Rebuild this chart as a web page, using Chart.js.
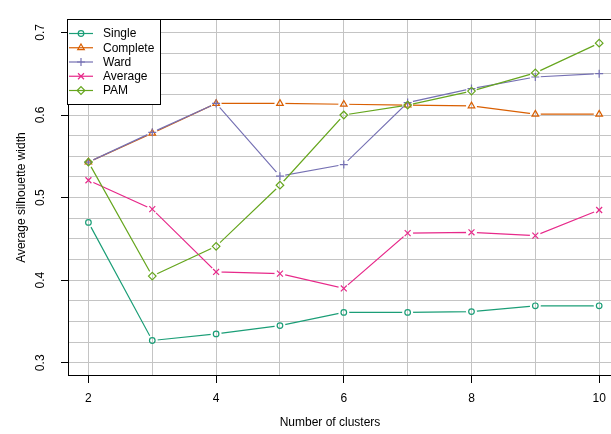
<!DOCTYPE html>
<html>
<head>
<meta charset="utf-8">
<script src="https://cdn.jsdelivr.net/npm/chart.js@4/dist/chart.umd.min.js"></script>
<style>
  html, body { margin: 0; padding: 0; background: #fff; overflow: hidden; width: 611px; height: 434px; }
  canvas { display: block; }
</style>
</head>
<body>
<canvas id="c" width="625" height="434"></canvas>
<script>
// Average silhouette width by number of clusters, for five clustering methods
const clusters = [2, 3, 4, 5, 6, 7, 8, 9, 10];
const single   = [0.470, 0.327, 0.335, 0.345, 0.361, 0.361, 0.362, 0.369, 0.369];
const complete = [0.543, 0.578, 0.614, 0.614, 0.613, 0.612, 0.611, 0.601, 0.601];
const ward     = [0.543, 0.579, 0.614, 0.526, 0.540, 0.615, 0.632, 0.646, 0.650];
const average  = [0.521, 0.486, 0.410, 0.408, 0.390, 0.457, 0.458, 0.454, 0.485];
const pam      = [0.543, 0.405, 0.441, 0.515, 0.600, 0.612, 0.629, 0.651, 0.687];

const seriesNames  = ['Single', 'Complete', 'Ward', 'Average', 'PAM'];
const seriesValues = [single, complete, ward, average, pam];

const xTickLabels = [2, 4, 6, 8, 10];
const yTickLabels = [0.3, 0.4, 0.5, 0.6, 0.7];

// styling
const seriesColors  = ['#1B9E77', '#D95F02', '#7570B3', '#E7298A', '#66A61E'];
const seriesMarkers = ['circle', 'triangle', 'cross', 'crossRot', 'rectRot'];
const markerRadius  = [2.8, 3.8, 4, 4.2, 3.8];
const GAP = 5.5;           // open space left around each marker on the connecting line
const FONT = '"Liberation Sans", Arial, Helvetica, sans-serif';

Chart.defaults.font.family = FONT;
Chart.defaults.font.size = 12;
Chart.defaults.color = '#000';

// one line dataset plus one marker dataset per method
const datasets = [];
seriesNames.forEach((name, i) => {
  const pts = clusters.map((x, j) => ({ x: x, y: seriesValues[i][j] }));
  datasets.push({
    label: name, data: pts, kind: 'line', series: i,
    borderColor: seriesColors[i], borderWidth: 1.2, pointRadius: 0,
    showLine: true, fill: false, tension: 0, order: 10 - 2 * i
  });
  datasets.push({
    label: name + ' markers', data: pts, kind: 'marker', series: i,
    borderColor: seriesColors[i], backgroundColor: 'rgba(0,0,0,0)',
    pointStyle: seriesMarkers[i], pointRadius: markerRadius[i], pointBorderWidth: 1.2,
    pointHoverRadius: markerRadius[i], showLine: false, order: 9 - 2 * i
  });
});

function near(list, v) { return list.some(t => Math.abs(t - v) < 1e-9); }

// line segments stop short of the markers
const gapPlugin = {
  id: 'gaps',
  beforeDatasetDraw(chart, args) {
    const ds = chart.data.datasets[args.index];
    if (ds.kind !== 'line') return;
    const meta = args.meta;
    const a = chart.chartArea;
    const ctx = chart.ctx;
    ctx.save();
    ctx.beginPath();
    ctx.rect(a.left, a.top, a.right - a.left, a.bottom - a.top);
    meta.data.forEach(p => {
      ctx.moveTo(p.x + GAP, p.y);
      ctx.arc(p.x, p.y, GAP, 0, Math.PI * 2);
    });
    ctx.clip('evenodd');
  },
  afterDatasetDraw(chart, args) {
    const ds = chart.data.datasets[args.index];
    if (ds.kind !== 'line') return;
    chart.ctx.restore();
  }
};

// plot frame, legend box and x-axis title
const decorPlugin = {
  id: 'decor',
  afterDraw(chart) {
    const ctx = chart.ctx;
    const a = chart.chartArea;
    ctx.save();
    ctx.strokeStyle = '#000';
    ctx.lineWidth = 1;
    ctx.strokeRect(Math.round(a.left) + 0.5, Math.round(a.top) + 0.5,
                   Math.round(a.right - a.left), Math.round(a.bottom - a.top) - 1);

    // legend
    const lx = Math.round(a.left) - 1, ly = Math.round(a.top), lw = 93, lh = 85;
    ctx.fillStyle = '#fff';
    ctx.fillRect(lx, ly, lw, lh);
    ctx.strokeStyle = '#000';
    ctx.strokeRect(lx + 0.5, ly + 0.5, lw, lh);
    ctx.font = '12px ' + FONT;
    ctx.textAlign = 'left';
    ctx.textBaseline = 'middle';
    seriesNames.forEach((name, i) => {
      const y = ly + 14.5 + i * 14.25;
      const cx = lx + 14;
      ctx.strokeStyle = seriesColors[i];
      ctx.lineWidth = 1.2;
      ctx.beginPath();
      ctx.moveTo(lx + 2, y); ctx.lineTo(lx + 26, y);
      ctx.stroke();
      ctx.fillStyle = 'rgba(0,0,0,0)';
      Chart.helpers.drawPoint(ctx, {
        pointStyle: seriesMarkers[i], radius: markerRadius[i], borderWidth: 1.2, rotation: 0
      }, cx, y);
      ctx.fillStyle = '#000';
      ctx.fillText(name, lx + 36, y + 0.5);
    });

    // x-axis title
    ctx.textAlign = 'center';
    ctx.textBaseline = 'alphabetic';
    ctx.fillStyle = '#000';
    ctx.fillText('Number of clusters', a.left + 262, 425.5);
    ctx.restore();
  }
};

new Chart(document.getElementById('c'), {
  type: 'line',
  data: { datasets },
  options: {
    responsive: false,
    animation: false,
    devicePixelRatio: 1,
    layout: { padding: { top: 9, right: 4, left: 0, bottom: 0 } },
    plugins: { legend: { display: false }, tooltip: { enabled: false } },
    events: [],
    scales: {
      x: {
        type: 'linear',
        min: 1.68, max: 10.32,
        afterBuildTicks(scale) { scale.ticks = clusters.map(v => ({ value: v })); },
        afterFit(scale) { scale.height = 58; },
        ticks: {
          autoSkip: false, maxRotation: 0, padding: 8,
          callback: v => near(xTickLabels, v) ? String(v) : ''
        },
        grid: {
          color: '#c4c4c4', lineWidth: 1, drawTicks: true, tickLength: 7, tickWidth: 1,
          tickColor: ctx => (ctx.tick && near(xTickLabels, ctx.tick.value)) ? '#000' : 'rgba(0,0,0,0)'
        },
        border: { display: false }
      },
      y: {
        type: 'linear',
        min: 0.284, max: 0.716,
        afterBuildTicks(scale) {
          const t = [];
          for (let i = 0; i <= 16; i++) t.push({ value: +(0.3 + i * 0.025).toFixed(3) });
          scale.ticks = t;
        },
        afterFit(scale) { scale.width = 68; },
        ticks: {
          autoSkip: false, minRotation: 90, maxRotation: 90, crossAlign: 'center', padding: 12,
          callback: v => near(yTickLabels, v) ? v.toFixed(1) : ''
        },
        grid: {
          color: '#c4c4c4', lineWidth: 1, drawTicks: true, tickLength: 7, tickWidth: 1,
          tickColor: ctx => (ctx.tick && near(yTickLabels, ctx.tick.value)) ? '#000' : 'rgba(0,0,0,0)'
        },
        border: { display: false },
        title: { display: true, text: 'Average silhouette width', padding: { top: 14, bottom: 0 } }
      }
    }
  },
  plugins: [gapPlugin, decorPlugin]
});
</script>
</body>
</html>
